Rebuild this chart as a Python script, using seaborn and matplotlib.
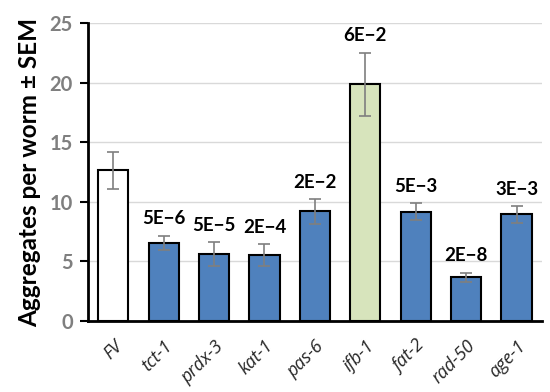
import matplotlib
matplotlib.use("Agg")
import matplotlib.pyplot as plt
import seaborn as sns
import pandas as pd

categories = ["FV", "tct-1", "prdx-3", "kat-1", "pas-6", "ifb-1", "fat-2", "rad-50", "age-1"]
means = [12.65, 6.57, 5.6, 5.54, 9.2, 19.88, 9.17, 3.66, 8.95]
sems = [1.55, 0.6, 1.0, 0.9, 1.05, 2.65, 0.7, 0.4, 0.7]
pvals = ["", "5E\u22126", "5E\u22125", "2E\u22124", "2E\u22122", "6E\u22122", "5E\u22123", "2E\u22128", "3E\u22123"]
colors = ["#FFFFFF", "#4F81BD", "#4F81BD", "#4F81BD", "#4F81BD", "#D7E4BC", "#4F81BD", "#4F81BD", "#4F81BD"]

sns.set_style("white")
plt.rcParams["font.family"] = ["Lato", "DejaVu Sans"]

df = pd.DataFrame({"cat": categories, "mean": means})

fig = plt.figure(figsize=(5.5, 3.92), dpi=100)
ax = fig.add_axes([0.16, 0.181, 0.825, 0.76])

ax.yaxis.grid(True, color="#D9D9D9", linewidth=1.0)
ax.set_axisbelow(True)

sns.barplot(data=df, x="cat", y="mean", hue="cat", palette=colors, legend=False,
            saturation=1, width=0.6, edgecolor="black", linewidth=1.5, ax=ax, zorder=2)

xs = list(range(len(categories)))
ax.errorbar(xs, means, yerr=sems, fmt="none", ecolor="#7F7F7F", elinewidth=1.2,
            capsize=4, capthick=1.2, zorder=3)

for x, m, s, p in zip(xs, means, sems, pvals):
    if p:
        ax.annotate(p, (x, m + s), xytext=(0, 6), textcoords="offset points",
                    ha="center", va="bottom", fontsize=13.5, fontweight="bold", color="black")

ax.set_xlim(-0.5, len(categories) - 0.5)
ax.set_ylim(0, 25)
ax.set_yticks([0, 5, 10, 15, 20, 25])
ax.set_xlabel("")
ax.set_ylabel("Aggregates per worm \u00b1 SEM", fontsize=17.5, fontweight="bold", color="black", labelpad=6)

for lab in ax.get_yticklabels():
    lab.set_fontweight("bold")
    lab.set_color("#7F7F7F")
    lab.set_fontsize(14.5)

ax.set_xticks(xs)
ax.set_xticklabels(categories, rotation=45, ha="right", rotation_mode="anchor",
                   fontstyle="italic", fontsize=13, family=["Open Sans", "DejaVu Sans"])

ax.tick_params(axis="y", which="major", left=True, length=6, width=1.5, color="black", pad=5)
ax.tick_params(axis="x", bottom=False, pad=8)

for side in ["top", "right"]:
    ax.spines[side].set_visible(False)
for side in ["left", "bottom"]:
    ax.spines[side].set_visible(True)
    ax.spines[side].set_color("black")
    ax.spines[side].set_linewidth(2)

fig.savefig("out.png", dpi=100)
